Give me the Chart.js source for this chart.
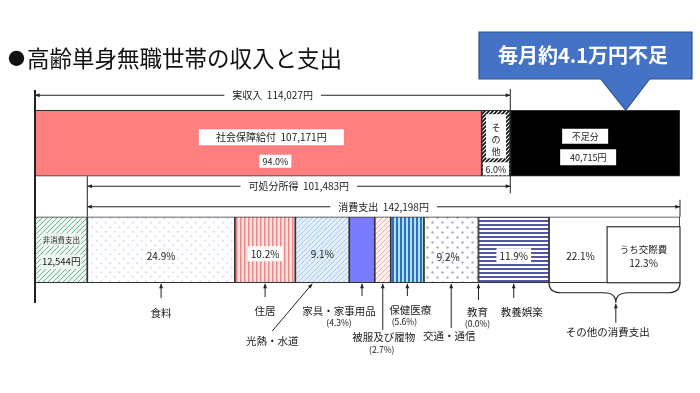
<!DOCTYPE html>
<html lang="ja">
<head>
<meta charset="utf-8">
<script src="https://cdn.jsdelivr.net/npm/chart.js@4/dist/chart.umd.min.js"></script>
<style>
  html, body { margin: 0; padding: 0; background: #fff; }
  #wrap { width: 700px; height: 393px; }
</style>
</head>
<body>
<div id="wrap"><canvas id="chart" width="700" height="393"></canvas></div>
<script>
// 高齢単身無職世帯の収入と支出（月額・円）
const titleText = '●高齢単身無職世帯の収入と支出';
const calloutText = '毎月約4.1万円不足';
const rowLabels = ['収入', '支出'];

// 収入側
const incomeLabels = ['社会保障給付', 'その他', '不足分'];
const incomeValues = [107171, 6856, 40715];
const incomePct = [94.0, 6.0];
const realIncome = 114027;
const disposableIncome = 101483;

// 支出側
const nonConsumption = 12544;
const consumptionTotal = 142198;
const consumptionLabels = ['食料', '住居', '光熱・水道', '家具・家事用品', '被服及び履物',
    '保健医療', '交通・通信', '教育', '教養娯楽', 'その他の消費支出'];
const consumptionPct = [24.9, 10.2, 9.1, 4.3, 2.7, 5.6, 9.2, 0.0, 11.9, 22.1];
const kousaihiLabel = 'うち交際費';
const kousaihiPct = 12.3;

const FONT = '"Noto Sans CJK JP", "Noto Sans", sans-serif';
const BAR = 66;

const canvas = document.getElementById('chart');
const ctx = canvas.getContext('2d');

// パターン作成
function makePattern(w, h, draw) {
    const c = document.createElement('canvas');
    c.width = w; c.height = h;
    const g = c.getContext('2d');
    draw(g, w, h);
    return ctx.createPattern(c, 'repeat');
}
function hatch(bg, fg, s, lw) {
    return makePattern(s, s, (g, w, h) => {
        g.fillStyle = bg; g.fillRect(0, 0, w, h);
        g.strokeStyle = fg; g.lineWidth = lw;
        g.beginPath();
        g.moveTo(0, s); g.lineTo(s, 0);
        g.moveTo(-1, 1); g.lineTo(1, -1);
        g.moveTo(s - 1, s + 1); g.lineTo(s + 1, s - 1);
        g.stroke();
    });
}
function vstripe(bg, fg, s, lw) {
    return makePattern(s, 4, (g, w, h) => {
        g.fillStyle = bg; g.fillRect(0, 0, w, h);
        g.fillStyle = fg; g.fillRect(0, 0, lw, h);
    });
}
function hstripe(bg, fg, s, lw) {
    return makePattern(4, s, (g, w, h) => {
        g.fillStyle = bg; g.fillRect(0, 0, w, h);
        g.fillStyle = fg; g.fillRect(0, 0, w, lw);
    });
}
function dots(bg, fg, s, r) {
    return makePattern(s, s, (g, w, h) => {
        g.fillStyle = bg; g.fillRect(0, 0, w, h);
        g.fillStyle = fg;
        g.beginPath(); g.arc(s / 4, s / 4, r, 0, Math.PI * 2); g.fill();
        g.beginPath(); g.arc(s * 3 / 4, s * 3 / 4, r, 0, Math.PI * 2); g.fill();
    });
}

const incomeFills = ['#ff7f7f', hatch('#ffffff', '#111111', 4, 1.6), '#000000'];
const nonConsFill = hatch('#eef6f0', '#6cb591', 5, 1);
const consumptionFills = [
    dots('#ffffff', '#cfe0ef', 9, 1.1),
    vstripe('#fbe0e0', '#e98a8a', 4, 1.5),
    hatch('#e2eef9', '#a9c9e6', 5, 1),
    '#7b7bff',
    hatch('#fff4f2', '#f0a8a0', 5, 1),
    vstripe('#aee0f8', '#2f6fc0', 4, 2),
    dots('#ffffff', '#a7acd6', 10, 1.2),
    '#ffffff',
    hstripe('#ffffff', '#55579f', 4, 2),
    '#ffffff'
];

const consumptionYen = consumptionPct.map(p => p / 100 * consumptionTotal);

const datasets = [];
incomeLabels.forEach((lab, i) => {
    datasets.push({ label: lab, data: [incomeValues[i], null], backgroundColor: incomeFills[i] });
});
datasets.push({ label: '非消費支出', data: [null, nonConsumption], backgroundColor: nonConsFill });
consumptionLabels.forEach((lab, i) => {
    datasets.push({ label: lab, data: [null, consumptionYen[i]], backgroundColor: consumptionFills[i] });
});
datasets.forEach(d => {
    d.borderColor = '#333';
    d.borderWidth = 1.2;
    d.borderSkipped = false;
    d.barThickness = BAR;
    d.stack = 's';
});

const fmt = v => v.toLocaleString('en-US');

function arrowHead(g, x1, y1, x2, y2, size) {
    const a = Math.atan2(y2 - y1, x2 - x1);
    g.beginPath();
    g.moveTo(x2, y2);
    g.lineTo(x2 - size * Math.cos(a - 0.4), y2 - size * Math.sin(a - 0.4));
    g.lineTo(x2 - size * Math.cos(a + 0.4), y2 - size * Math.sin(a + 0.4));
    g.closePath();
    g.fill();
}
function arrow(g, x1, y1, x2, y2) {
    g.beginPath(); g.moveTo(x1, y1); g.lineTo(x2, y2); g.stroke();
    arrowHead(g, x1, y1, x2, y2, 5);
}
function dimLine(g, x1, x2, y, text, tx) {
    g.beginPath(); g.moveTo(x1, y); g.lineTo(x2, y); g.stroke();
    arrowHead(g, x2, y, x1, y, 5);
    arrowHead(g, x1, y, x2, y, 5);
    boxText(g, text, tx == null ? (x1 + x2) / 2 : tx, y, '10px ' + FONT, 8, '#fff');
}
function boxText(g, text, x, y, font, pad, bg, boxW, boxH) {
    g.font = font;
    const w = boxW || g.measureText(text).width + pad * 2;
    const h = boxH || parseFloat(font) + 5;
    if (bg) { g.fillStyle = bg; g.fillRect(x - w / 2, y - h / 2, w, h); }
    g.fillStyle = '#1a1a1a';
    g.textAlign = 'center'; g.textBaseline = 'middle';
    g.fillText(text, x, y);
}

const annotate = {
    id: 'annotate',
    afterDatasetsDraw(chart) {
        const g = chart.ctx;
        const xs = chart.scales.x, ys = chart.scales.y;
        const area = chart.chartArea;
        const px = v => xs.getPixelForValue(v);
        const incY = ys.getPixelForValue(0), expY = ys.getPixelForValue(1);
        const incTop = incY - BAR / 2, incBot = incY + BAR / 2;
        const expTop = expY - BAR / 2, expBot = expY + BAR / 2;
        const total = nonConsumption + consumptionTotal;
        g.save();

        // タイトル（先頭の●は少し小さく）
        g.fillStyle = '#111';
        g.textAlign = 'left'; g.textBaseline = 'middle';
        g.font = '17px ' + FONT;
        const bullet = titleText.charAt(0);
        g.fillText(bullet, 8, 59);
        const bw = g.measureText(bullet).width;
        g.font = '22.5px ' + FONT;
        g.fillText(titleText.slice(1), 8 + bw + 2, 58);

        // 吹き出し
        const tipX = px(realIncome + incomeValues[2] * 0.68);
        g.beginPath();
        g.moveTo(479, 32); g.lineTo(692, 32); g.lineTo(692, 79);
        g.lineTo(tipX + 24, 79); g.lineTo(tipX, incTop); g.lineTo(tipX - 25, 79);
        g.lineTo(479, 79); g.closePath();
        g.fillStyle = '#4472c4'; g.fill();
        g.strokeStyle = '#2f528f'; g.lineWidth = 1.2; g.stroke();
        g.fillStyle = '#fff';
        g.font = 'bold 20px ' + FONT;
        g.textAlign = 'center';
        g.fillText(calloutText, 583, 55);

        // 軸線・寸法線
        g.strokeStyle = '#222'; g.fillStyle = '#222';
        g.lineWidth = 2;
        g.beginPath(); g.moveTo(px(0), area.top); g.lineTo(px(0), area.bottom); g.stroke();
        g.lineWidth = 1;
        g.beginPath(); g.moveTo(px(realIncome), area.top - 1); g.lineTo(px(realIncome), incBot + 17); g.stroke();
        g.beginPath(); g.moveTo(px(nonConsumption), incBot); g.lineTo(px(nonConsumption), expTop); g.stroke();
        g.beginPath(); g.moveTo(px(total), expTop - 17); g.lineTo(px(total), expTop); g.stroke();

        g.fillStyle = '#222';
        dimLine(g, px(0), px(realIncome), incTop - 15, `実収入  ${fmt(realIncome)}円`);
        g.fillStyle = '#222';
        dimLine(g, px(nonConsumption), px(realIncome), incBot + 10, `可処分所得  ${fmt(disposableIncome)}円`);
        g.fillStyle = '#222';
        dimLine(g, px(nonConsumption), px(total), expTop - 10, `消費支出  ${fmt(consumptionTotal)}円`);

        // 収入バー内ラベル
        const ssX = px(incomeValues[0] / 2);
        boxText(g, `${incomeLabels[0]}  ${fmt(incomeValues[0])}円`, ssX + 13, incY - 6, '10px ' + FONT, 0, '#fff', 145, 16);
        boxText(g, `${incomePct[0].toFixed(1)}%`, ssX + 17, incY + 18, '9px ' + FONT, 0, '#fff', 32, 13);
        const otX = px(incomeValues[0] + incomeValues[1] / 2);
        g.fillStyle = '#fff';
        g.fillRect(otX - 10, incTop + 4, 20, 44);
        g.fillRect(otX - 13, incTop + 52, 26, 13);
        g.fillStyle = '#222'; g.font = '9px ' + FONT;
        Array.from(incomeLabels[1]).forEach((ch, i) => g.fillText(ch, otX, incTop + 17 + i * 12));
        boxText(g, `${incomePct[1].toFixed(1)}%`, otX, incTop + 59, '9px ' + FONT, 0, null);
        const dfX = px(realIncome + incomeValues[2] / 2);
        boxText(g, incomeLabels[2], dfX - 10, incY - 7, '9px ' + FONT, 0, '#fff', 46, 15);
        boxText(g, `${fmt(incomeValues[2])}円`, dfX - 7, incY + 14, '9px ' + FONT, 0, '#fff', 56, 16);

        // 非消費支出
        const ncX = px(nonConsumption / 2);
        boxText(g, '非消費支出', ncX, expY - 10, '7.5px ' + FONT, 1, '#eef6f0');
        boxText(g, `${fmt(nonConsumption)}円`, ncX, expY + 12, '9.5px ' + FONT, 1, '#eef6f0');

        // 消費支出の各項目
        let acc = nonConsumption;
        const centers = [], starts = [];
        consumptionYen.forEach(v => { starts.push(px(acc)); centers.push(px(acc + v / 2)); acc += v; });
        const inside = { 0: [0, 6, null], 1: [0, 4, '#fff'], 2: [0, 4, null], 6: [-3, 7, null], 8: [0, 6, '#fff'], 9: [-34, 6, null] };
        Object.keys(inside).forEach(k => {
            const [dx, dy, bg] = inside[k];
            boxText(g, `${consumptionPct[k].toFixed(1)}%`, centers[k] + dx, expY + dy, '10px ' + FONT, 3, bg);
        });

        // うち交際費
        const kX1 = px(nonConsumption + consumptionTotal * (1 - kousaihiPct / 100));
        const kX2 = px(total);
        g.fillStyle = '#fff';
        g.fillRect(kX1, expTop + 10, kX2 - kX1, expBot - expTop - 10);
        g.strokeStyle = '#333'; g.lineWidth = 1.2;
        g.strokeRect(kX1, expTop + 10, kX2 - kX1, expBot - expTop - 10);
        boxText(g, kousaihiLabel, (kX1 + kX2) / 2, expY, '9.5px ' + FONT, 0, null);
        boxText(g, `${kousaihiPct.toFixed(1)}%`, (kX1 + kX2) / 2, expY + 13, '10px ' + FONT, 0, null);

        // 下のラベルと矢印
        g.strokeStyle = '#222'; g.fillStyle = '#222'; g.lineWidth = 1;
        const below = [
            { ay: 298, tx: 0, ty: 313 },
            { ay: 297, tx: 0, ty: 311 },
            { ax: -50, ay: 331, tipdx: -10, tx: -50, ty: 341 },
            { ay: 296, tx: -23, ty: 311, pct: true, px: -23 },
            { ay: 330, tx: 1, ty: 337, pct: true, px: -1, pdy: 13 },
            { ay: 296, tx: 3, ty: 310, pct: true, px: -3 },
            { ay: 328, tx: -2, ty: 336 },
            { ay: 300, tx: -1, ty: 312, pct: true, px: -1 },
            { ay: 298, tx: 8, ty: 312 }
        ];
        below.forEach((b, i) => {
            const cx = centers[i];
            g.strokeStyle = '#222'; g.fillStyle = '#222';
            arrow(g, cx + (b.ax || 0), b.ay, cx + (b.tipdx || 0), expBot + 1);
            boxText(g, consumptionLabels[i], cx + b.tx, b.ty, '10.5px ' + FONT, 0, null);
            if (b.pct) {
                boxText(g, `(${consumptionPct[i].toFixed(1)}%)`, cx + b.px, b.ty + (b.pdy || 12), '8.5px ' + FONT, 0, null);
            }
        });

        // その他の消費支出（波括弧）
        const bx1 = starts[9], bx2 = px(total), bm = px(total - consumptionYen[9] * 0.49);
        g.strokeStyle = '#222'; g.lineWidth = 1.2;
        g.beginPath();
        g.moveTo(bx1, expBot);
        g.quadraticCurveTo(bx1, expBot + 10, bx1 + 12, expBot + 10);
        g.lineTo(bm - 12, expBot + 10);
        g.quadraticCurveTo(bm, expBot + 10, bm, expBot + 20);
        g.quadraticCurveTo(bm, expBot + 10, bm + 12, expBot + 10);
        g.lineTo(bx2 - 12, expBot + 10);
        g.quadraticCurveTo(bx2, expBot + 10, bx2, expBot);
        g.stroke();
        g.lineWidth = 1; g.fillStyle = '#222';
        arrow(g, bm, expBot + 40, bm, expBot + 21);
        boxText(g, consumptionLabels[9], bm - 8, expBot + 49, '10.5px ' + FONT, 0, null);

        g.restore();
    }
};

new Chart(ctx, {
    type: 'bar',
    data: { labels: rowLabels, datasets: datasets },
    options: {
        indexAxis: 'y',
        responsive: false,
        animation: false,
        devicePixelRatio: 1,
        layout: { padding: { left: 35, right: 20, top: 90, bottom: 90 } },
        plugins: { legend: { display: false }, tooltip: { enabled: false }, title: { display: false } },
        scales: {
            x: { type: 'linear', stacked: true, min: 0, max: nonConsumption + consumptionTotal, display: false },
            y: { type: 'category', stacked: true, display: false, offset: true }
        }
    },
    plugins: [annotate]
});
</script>
</body>
</html>
